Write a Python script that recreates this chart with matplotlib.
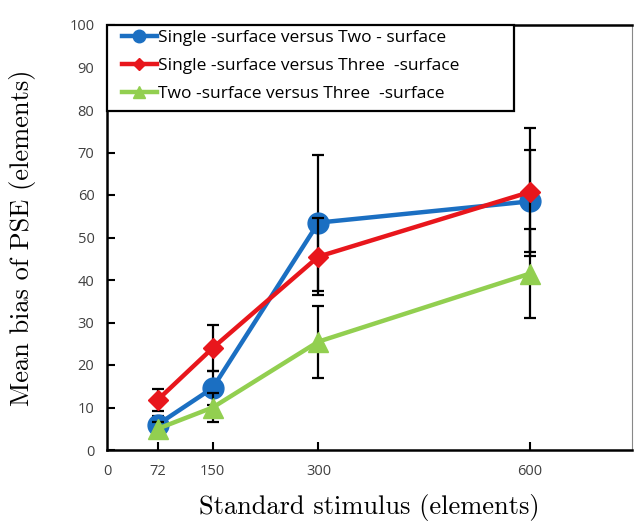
import matplotlib.pyplot as plt
from matplotlib.patches import Rectangle

stimulus = [72, 150, 300, 600]

single_vs_two = [6.0, 14.6, 53.5, 58.5]
single_vs_two_err = [2.0, 4.0, 16.0, 12.0]

single_vs_three = [11.8, 24.0, 45.5, 60.7]
single_vs_three_err = [2.6, 5.5, 9.0, 15.0]

two_vs_three = [5.0, 10.0, 25.5, 41.5]
two_vs_three_err = [1.5, 3.5, 8.5, 10.5]

LABELS = (
    "Single -surface versus Two - surface",
    "Single -surface versus Three  -surface",
    "Two -surface versus Three  -surface",
)
COLORS = ("#1b6fc2", "#e8161c", "#92cf50")
MARKERS = ("o", "D", "^")
MSIZES = (15, 10, 14)

SERIES = [
    (single_vs_two, single_vs_two_err),
    (single_vs_three, single_vs_three_err),
    (two_vs_three, two_vs_three_err),
]

fig = plt.figure(figsize=(6.34, 5.26), dpi=100)
ax = fig.add_axes((107 / 634, 1 - 450 / 526, 525 / 634, 425 / 526))

for i, ((ys, errs), color, marker, ms, label) in enumerate(
    zip(SERIES, COLORS, MARKERS, MSIZES, LABELS)
):
    ax.errorbar(
        stimulus, ys, yerr=errs, fmt="none", ecolor="black",
        elinewidth=1.6, capsize=4, capthick=1.6, zorder=2 + i,
    )
    ax.plot(
        stimulus, ys, color=color, lw=3.2, marker=marker, ms=ms,
        mec=color, label=label, zorder=3 + i,
    )

ax.set_xlim(0, 745)
ax.set_ylim(0, 100)
ax.set_xticks([0, 72, 150, 300, 600])
ax.set_yticks(range(0, 101, 10))
ax.tick_params(axis="both", direction="in", length=6, width=1.5,
               labelsize=10.5, labelcolor="#404040")
ax.tick_params(axis="x", pad=10)
ax.tick_params(axis="y", pad=9)
ax.get_xticklines()[0].set_visible(False)
ax.get_xticklines()[1].set_visible(False)
for lab in ax.get_xticklabels() + ax.get_yticklabels():
    lab.set_family("Open Sans")

for side in ("left", "bottom", "top"):
    ax.spines[side].set_linewidth(1.8)
ax.spines["right"].set_linewidth(0.8)
ax.spines["right"].set_color("#888888")

ax.set_xlabel("Standard stimulus (elements)", family="cmr10", fontsize=19,
              labelpad=11)
ax.set_ylabel("Mean bias of PSE (elements)", family="cmr10", fontsize=19,
              labelpad=24)

# legend box as in the original, wider than its text
ax.add_patch(Rectangle((0.0, 0.798), 0.775, 0.202, transform=ax.transAxes,
                       facecolor="white", edgecolor="black", lw=1.6,
                       zorder=9, clip_on=False))
leg = ax.legend(
    loc="upper left", bbox_to_anchor=(0.02, 0.998), frameon=False,
    borderaxespad=0, markerscale=0.6, handlelength=2.0, handletextpad=0.1,
    labelspacing=0.68, borderpad=0.25,
    prop={"family": "Open Sans", "size": 12.5},
)
leg.set_zorder(10)

fig.savefig("out.png", dpi=100)
